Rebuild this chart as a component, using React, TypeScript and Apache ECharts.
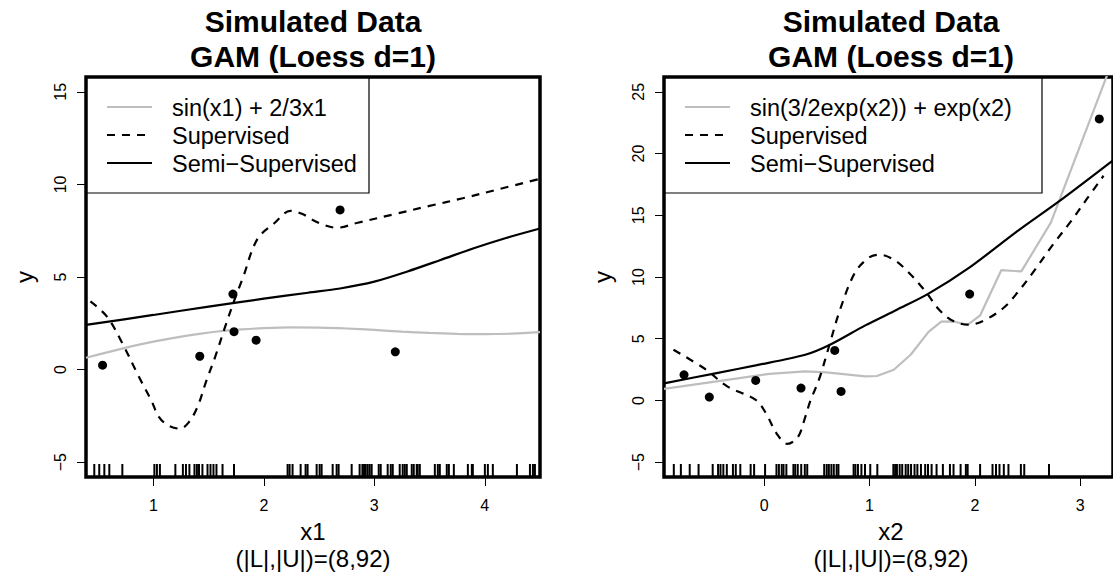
import React, { useEffect, useRef } from "react";
import * as echarts from "echarts";

const FONT = '"Liberation Sans", Arial, Helvetica, sans-serif';

// ---------- Left panel (x1) ----------
const x1Ticks = [1, 2, 3, 4];
const y1Ticks = [-5, 0, 5, 10, 15];
const truthX1 = [0.39, 0.6, 0.8, 1.0, 1.2, 1.4, 1.6, 1.8, 2.0, 2.25, 2.5, 2.75, 3.0, 3.25, 3.5, 3.75, 4.0, 4.25, 4.5];
const truthY1 = [0.64, 0.96, 1.25, 1.51, 1.73, 1.92, 2.07, 2.17, 2.24, 2.28, 2.27, 2.22, 2.14, 2.05, 1.98, 1.93, 1.91, 1.94, 2.02];
const superX1 = [0.43, 0.58, 0.72, 0.87, 0.98, 1.05, 1.13, 1.24, 1.32, 1.4, 1.48, 1.56, 1.65, 1.73, 1.81, 1.94, 2.1, 2.24, 2.35, 2.43, 2.55, 2.66, 2.85, 3.18, 3.5, 3.8, 4.1, 4.5];
const superY1 = [3.68, 2.86, 1.41, -0.4, -1.65, -2.55, -3.0, -3.19, -2.85, -2.0, -0.6, 0.7, 2.32, 3.7, 4.95, 7.03, 7.93, 8.57, 8.4, 8.12, 7.8, 7.66, 7.93, 8.39, 8.84, 9.25, 9.7, 10.3];
const semiX1 = [0.39, 1.0, 1.5, 2.0, 2.4, 2.69, 3.0, 3.3, 3.6, 3.9, 4.2, 4.5];
const semiY1 = [2.41, 2.95, 3.4, 3.83, 4.15, 4.38, 4.75, 5.3, 5.92, 6.55, 7.12, 7.62];
const labeledX1 = [0.54, 1.42, 1.72, 1.73, 1.93, 2.69, 3.19];
const labeledY1 = [0.24, 0.72, 4.08, 2.05, 1.59, 8.62, 0.96];
const rugX1 = [0.465, 0.51, 0.556, 0.601, 0.719, 1.009, 1.032, 1.059, 1.199, 1.267, 1.295, 1.326, 1.372, 1.394, 1.413, 1.444, 1.49, 1.517, 1.544, 1.571, 1.626, 1.73, 2.215, 2.233, 2.26, 2.333, 2.378, 2.396, 2.478, 2.505, 2.523, 2.623, 2.659, 2.677, 2.795, 2.867, 2.892, 2.907, 2.922, 2.94, 2.958, 2.976, 3.04, 3.058, 3.121, 3.149, 3.167, 3.23, 3.257, 3.276, 3.294, 3.339, 3.357, 3.384, 3.393, 3.412, 3.548, 3.575, 3.593, 3.656, 3.675, 3.72, 3.847, 3.883, 3.892, 4.001, 4.028, 4.073, 4.291, 4.409, 4.436, 4.454];

// ---------- Right panel (x2) ----------
const x2Ticks = [0, 1, 2, 3];
const y2Ticks = [-5, 0, 5, 10, 15, 20, 25];
const truthX2 = [-0.95, -0.45, 0.05, 0.39, 0.59, 0.96, 1.07, 1.23, 1.39, 1.56, 1.68, 1.8, 1.93, 2.05, 2.25, 2.44, 2.72, 3.31];
const truthY2 = [0.94, 1.54, 2.16, 2.35, 2.27, 1.95, 1.98, 2.49, 3.7, 5.55, 6.38, 6.4, 6.12, 6.9, 10.55, 10.45, 14.4, 27.6];
const superX2 = [-0.86, -0.55, -0.35, -0.08, 0.02, 0.12, 0.22, 0.32, 0.39, 0.44, 0.52, 0.62, 0.72, 0.86, 0.99, 1.09, 1.23, 1.36, 1.53, 1.66, 1.8, 1.95, 2.1, 2.27, 2.4, 2.57, 2.74, 2.91, 3.06, 3.22];
const superY2 = [4.11, 2.49, 1.14, 0.05, -1.08, -2.7, -3.51, -2.97, -1.35, 0.0, 1.68, 4.51, 7.35, 10.32, 11.54, 11.81, 11.41, 10.46, 8.84, 7.35, 6.41, 6.14, 6.54, 7.49, 8.7, 10.59, 12.62, 14.5, 16.3, 18.2];
const semiX2 = [-0.95, -0.45, -0.08, 0.39, 0.62, 0.96, 1.26, 1.56, 1.95, 2.4, 2.82, 3.31];
const semiY2 = [1.39, 2.22, 2.84, 3.7, 4.49, 6.08, 7.35, 8.65, 10.78, 13.7, 16.27, 19.45];
const labeledX2 = [-0.76, -0.52, -0.08, 0.35, 0.67, 0.73, 1.95, 3.18];
const labeledY2 = [2.08, 0.27, 1.62, 1.0, 4.05, 0.73, 8.62, 22.8];
const rugX2 = [-0.857, -0.79, -0.706, -0.622, -0.488, -0.437, -0.414, -0.387, -0.354, -0.296, -0.269, -0.226, -0.128, -0.095, 0.009, 0.117, 0.14, 0.167, 0.184, 0.211, 0.278, 0.295, 0.319, 0.352, 0.386, 0.409, 0.57, 0.594, 0.614, 0.638, 0.661, 0.688, 0.705, 0.849, 0.866, 0.89, 0.923, 0.957, 1.007, 1.074, 1.226, 1.243, 1.26, 1.286, 1.31, 1.343, 1.367, 1.394, 1.427, 1.454, 1.488, 1.528, 1.555, 1.589, 1.636, 1.696, 1.763, 1.797, 1.864, 1.914, 1.931, 2.049, 2.167, 2.2, 2.233, 2.274, 2.318, 2.436, 2.468, 2.703];

const titleLine1 = "Simulated Data";
const titleLine2 = "GAM (Loess d=1)";
const subTitle = "(|L|,|U|)=(8,92)";
const legendLabels1 = ["sin(x1) + 2/3x1", "Supervised", "Semi\u2212Supervised"];
const legendLabels2 = ["sin(3/2exp(x2)) + exp(x2)", "Supervised", "Semi\u2212Supervised"];

const GRAY = "#BEBEBE";
const DASH = [8, 7];

const pairs = (xs: number[], ys: number[]) => xs.map((x, i) => [x, ys[i]]);
const fmt = (v: number) => String(v).replace("-", "\u2212");

type Panel = {
  left: number;
  top: number;
  width: number;
  height: number;
  xMin: number;
  xMax: number;
  yMin: number;
  yMax: number;
  xTicks: number[];
  yTicks: number[];
  xName: string;
  legendW: number;
  legend: string[];
};

const panels: Panel[] = [
  { left: 86, top: 77, width: 454, height: 400, xMin: 0.39, xMax: 4.5, yMin: -5.8, yMax: 15.8, xTicks: x1Ticks, yTicks: y1Ticks, xName: "x1", legendW: 283, legend: legendLabels1 },
  { left: 664, top: 77, width: 454, height: 400, xMin: -0.95, xMax: 3.31, yMin: -6.2, yMax: 26.2, xTicks: x2Ticks, yTicks: y2Ticks, xName: "x2", legendW: 378, legend: legendLabels2 },
];

export default function App() {
  const ref = useRef<HTMLDivElement>(null);

  useEffect(() => {
    document.body.style.margin = "0";
    if (!ref.current) return;
    const chart = echarts.init(ref.current, undefined, { renderer: "svg" });

    const grids = panels.map((p) => ({
      left: p.left,
      top: p.top,
      width: p.width,
      height: p.height,
      show: true,
      borderColor: "#000",
      borderWidth: 3.5,
      backgroundColor: "transparent",
    }));

    const xAxes = panels.map((p, i) => ({
      gridIndex: i,
      type: "value",
      position: "bottom",
      min: p.xMin,
      max: p.xMax,
      axisLine: { show: false, onZero: false },
      splitLine: { show: false },
      axisTick: { show: true, inside: false, length: 9, customValues: p.xTicks, lineStyle: { color: "#000", width: 1 } },
      axisLabel: { customValues: p.xTicks, fontSize: 16, fontFamily: FONT, color: "#000", margin: 20, formatter: fmt },
    }));

    const yAxes = panels.map((p, i) => ({
      gridIndex: i,
      type: "value",
      position: "left",
      min: p.yMin,
      max: p.yMax,
      axisLine: { show: false, onZero: false },
      splitLine: { show: false },
      axisTick: { show: true, inside: false, length: 9, customValues: p.yTicks, lineStyle: { color: "#000", width: 1 } },
      axisLabel: { customValues: p.yTicks, fontSize: 16, fontFamily: FONT, color: "#000", margin: 18, rotate: 90, formatter: fmt },
    }));

    const panelData = [
      { truth: pairs(truthX1, truthY1), sup: pairs(superX1, superY1), semi: pairs(semiX1, semiY1), pts: pairs(labeledX1, labeledY1), rug: rugX1, truthSmooth: 0.3 },
      { truth: pairs(truthX2, truthY2), sup: pairs(superX2, superY2), semi: pairs(semiX2, semiY2), pts: pairs(labeledX2, labeledY2), rug: rugX2, truthSmooth: false },
    ];

    const series: any[] = [];
    panelData.forEach((d, i) => {
      const p = panels[i];
      series.push({
        type: "line", xAxisIndex: i, yAxisIndex: i, data: d.truth, showSymbol: false, smooth: d.truthSmooth,
        lineStyle: { color: GRAY, width: 2.2 }, silent: true, z: 2,
      });
      series.push({
        type: "line", xAxisIndex: i, yAxisIndex: i, data: d.sup, showSymbol: false, smooth: 0.35,
        lineStyle: { color: "#000", width: 2.2, type: DASH }, silent: true, z: 3,
      });
      series.push({
        type: "line", xAxisIndex: i, yAxisIndex: i, data: d.semi, showSymbol: false, smooth: 0.3,
        lineStyle: { color: "#000", width: 2.2 }, silent: true, z: 3,
      });
      series.push({
        type: "scatter", xAxisIndex: i, yAxisIndex: i, data: d.pts, symbol: "circle", symbolSize: 9,
        itemStyle: { color: "#000", opacity: 1 }, silent: true, z: 4, clip: true,
      });
      series.push({
        type: "scatter", xAxisIndex: i, yAxisIndex: i, data: d.rug.map((x) => [x, p.yMin]),
        symbol: "rect", symbolSize: [2, 13], symbolOffset: [0, "-50%"],
        itemStyle: { color: "#000", opacity: 1 }, silent: true, z: 4,
      });
    });

    const graphic: any[] = [];
    panels.forEach((p) => {
      const cx = p.left + p.width / 2;
      graphic.push({ type: "text", x: cx, y: 21, style: { text: titleLine1, fontSize: 30, fontWeight: "bold", fontFamily: FONT, fill: "#000", align: "center", verticalAlign: "middle" } });
      graphic.push({ type: "text", x: cx, y: 56, style: { text: titleLine2, fontSize: 30, fontWeight: "bold", fontFamily: FONT, fill: "#000", align: "center", verticalAlign: "middle" } });
      graphic.push({ type: "text", x: cx, y: 531, style: { text: p.xName, fontSize: 24, fontFamily: FONT, fill: "#000", align: "center", verticalAlign: "middle" } });
      graphic.push({ type: "text", x: cx, y: 558, style: { text: subTitle, fontSize: 24, fontFamily: FONT, fill: "#000", align: "center", verticalAlign: "middle" } });
      graphic.push({ type: "text", x: p.left - 62, y: p.top + 200, rotation: Math.PI / 2, style: { text: "y", fontSize: 24, fontFamily: FONT, fill: "#000", align: "center", verticalAlign: "middle" } });
      // legend
      graphic.push({ type: "rect", shape: { x: p.left, y: p.top, width: p.legendW, height: 116 }, style: { fill: null, stroke: "#000", lineWidth: 1.2 }, z: 10 });
      const rows = [107, 135, 163];
      const styles = [
        { stroke: GRAY, lineWidth: 2.2 },
        { stroke: "#000", lineWidth: 2.2, lineDash: DASH },
        { stroke: "#000", lineWidth: 2.2 },
      ];
      rows.forEach((ry, k) => {
        graphic.push({ type: "line", shape: { x1: p.left + 21, y1: ry, x2: p.left + 66, y2: ry }, style: styles[k], z: 10 });
        graphic.push({ type: "text", x: p.left + 86, y: ry + 1, style: { text: p.legend[k], fontSize: 23.5, fontFamily: FONT, fill: "#000", align: "left", verticalAlign: "middle" }, z: 10 });
      });
    });

    chart.setOption({
      animation: false,
      backgroundColor: "#fff",
      grid: grids,
      xAxis: xAxes,
      yAxis: yAxes,
      series,
      graphic,
    });

    return () => chart.dispose();
  }, []);

  return <div ref={ref} style={{ position: "absolute", left: 0, top: 0, width: 1113, height: 582 }} />;
}
